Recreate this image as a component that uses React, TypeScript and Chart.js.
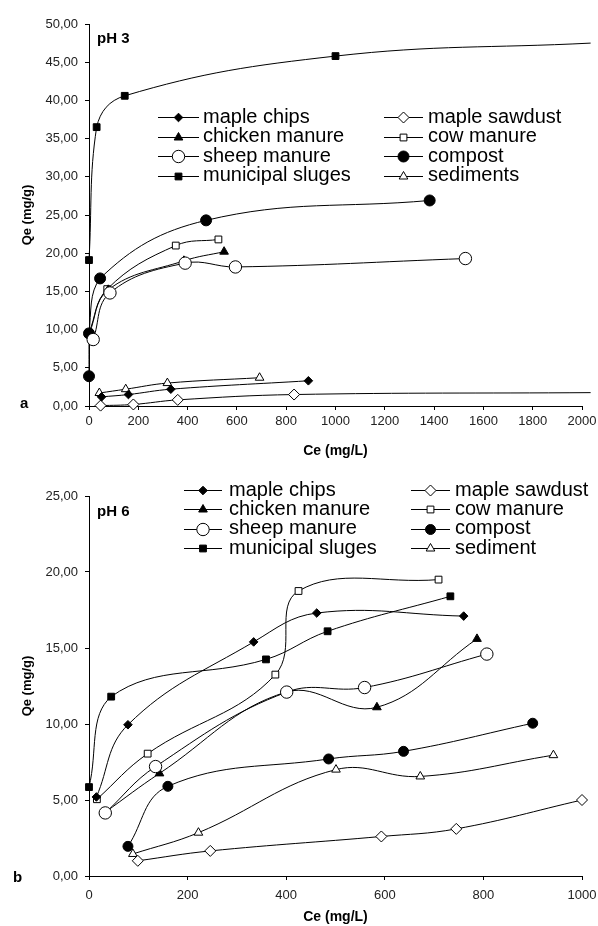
import React, { useEffect, useRef } from "react";
import { Chart, registerables } from "chart.js";

Chart.register(...registerables);

const FONT = '"Liberation Sans", Arial, sans-serif';

// ---- pH 3 : equilibrium concentration Ce (mg/L) and uptake Qe (mg/g) ----
const A_CHIPS_CE = [51, 160, 332, 890];
const A_CHIPS_QE = [1.2, 1.5, 2.2, 3.3];
const A_SAWDUST_CE = [47, 180, 360, 832, 2035];
const A_SAWDUST_QE = [0.05, 0.2, 0.8, 1.5, 1.75];
const A_CHICKEN_CE = [0, 78, 385, 548];
const A_CHICKEN_QE = [9.4, 15.2, 19.0, 20.2];
const A_COW_CE = [0, 74, 352, 525];
const A_COW_QE = [9.6, 15.3, 21.0, 21.8];
const A_SHEEP_CE = [17, 85, 390, 594, 1527];
const A_SHEEP_QE = [8.7, 14.8, 18.7, 18.2, 19.3];
const A_COMPOST_CE = [0, 0, 45, 475, 1382];
const A_COMPOST_QE = [3.9, 9.5, 16.7, 24.3, 26.9];
const A_MUNICIPAL_CE = [0, 31, 145, 1000, 2035];
const A_MUNICIPAL_QE = [19.1, 36.5, 40.6, 45.8, 47.5];
const A_SEDIMENTS_CE = [42, 149, 318, 692];
const A_SEDIMENTS_QE = [1.7, 2.2, 3.0, 3.7];

// ---- pH 6 ----
const B_CHIPS_CE = [15, 79, 334, 462, 760];
const B_CHIPS_QE = [5.2, 9.95, 15.4, 17.3, 17.1];
const B_SAWDUST_CE = [99, 246, 593, 745, 1000];
const B_SAWDUST_QE = [1.0, 1.65, 2.6, 3.1, 5.0];
const B_CHICKEN_CE = [33, 143, 400, 584, 787];
const B_CHICKEN_QE = [4.2, 6.75, 12.1, 11.1, 15.6];
const B_COW_CE = [16, 119, 378, 425, 709];
const B_COW_QE = [5.05, 8.05, 13.25, 18.75, 19.5];
const B_SHEEP_CE = [33, 135, 401, 559, 807];
const B_SHEEP_QE = [4.15, 7.2, 12.1, 12.4, 14.6];
const B_COMPOST_CE = [79, 160, 486, 638, 900];
const B_COMPOST_QE = [1.95, 5.9, 7.7, 8.2, 10.05];
const B_MUNICIPAL_CE = [0, 45, 359, 484, 733];
const B_MUNICIPAL_QE = [5.85, 11.8, 14.25, 16.1, 18.4];
const B_SEDIMENT_CE = [89, 222, 501, 672, 942];
const B_SEDIMENT_QE = [1.45, 2.85, 7.0, 6.55, 7.95];

// axis ranges
const A_X_MAX = 2000;
const A_Y_MAX = 50;
const B_X_MAX = 1000;
const B_Y_MAX = 25;

type Shape = "circle" | "rect" | "rectRot" | "triangle";
type Marker = { shape: Shape; r: number; filled: boolean; order: number };

const MARK = {
  chips: { shape: "rectRot", r: 4.3, filled: true, order: 0 } as Marker,
  sawdust: { shape: "rectRot", r: 5.5, filled: false, order: 0 } as Marker,
  chicken: { shape: "triangle", r: 5, filled: true, order: 0 } as Marker,
  cow: { shape: "rect", r: 4.8, filled: false, order: 0 } as Marker,
  sheep: { shape: "circle", r: 6.2, filled: false, order: -2 } as Marker,
  compost: { shape: "circle", r: 5.5, filled: true, order: -1 } as Marker,
  municipal: { shape: "rect", r: 4.8, filled: true, order: 0 } as Marker,
  sediments: { shape: "triangle", r: 5, filled: false, order: 0 } as Marker,
};

type Series = { label: string; ce: number[]; qe: number[]; marked: number; mark: Marker };

const SERIES_A: Series[] = [
  { label: "maple chips", ce: A_CHIPS_CE, qe: A_CHIPS_QE, marked: 4, mark: MARK.chips },
  { label: "maple sawdust", ce: A_SAWDUST_CE, qe: A_SAWDUST_QE, marked: 4, mark: MARK.sawdust },
  { label: "chicken manure", ce: A_CHICKEN_CE, qe: A_CHICKEN_QE, marked: 4, mark: MARK.chicken },
  { label: "cow manure", ce: A_COW_CE, qe: A_COW_QE, marked: 4, mark: MARK.cow },
  { label: "sheep manure", ce: A_SHEEP_CE, qe: A_SHEEP_QE, marked: 5, mark: MARK.sheep },
  { label: "compost", ce: A_COMPOST_CE, qe: A_COMPOST_QE, marked: 5, mark: MARK.compost },
  { label: "municipal sluges", ce: A_MUNICIPAL_CE, qe: A_MUNICIPAL_QE, marked: 4, mark: MARK.municipal },
  { label: "sediments", ce: A_SEDIMENTS_CE, qe: A_SEDIMENTS_QE, marked: 4, mark: MARK.sediments },
];

const SERIES_B: Series[] = [
  { label: "maple chips", ce: B_CHIPS_CE, qe: B_CHIPS_QE, marked: 5, mark: MARK.chips },
  { label: "maple sawdust", ce: B_SAWDUST_CE, qe: B_SAWDUST_QE, marked: 5, mark: MARK.sawdust },
  { label: "chicken manure", ce: B_CHICKEN_CE, qe: B_CHICKEN_QE, marked: 5, mark: MARK.chicken },
  { label: "cow manure", ce: B_COW_CE, qe: B_COW_QE, marked: 5, mark: MARK.cow },
  { label: "sheep manure", ce: B_SHEEP_CE, qe: B_SHEEP_QE, marked: 5, mark: MARK.sheep },
  { label: "compost", ce: B_COMPOST_CE, qe: B_COMPOST_QE, marked: 5, mark: { ...MARK.compost, r: 5 } },
  { label: "municipal sluges", ce: B_MUNICIPAL_CE, qe: B_MUNICIPAL_QE, marked: 5, mark: MARK.municipal },
  { label: "sediment", ce: B_SEDIMENT_CE, qe: B_SEDIMENT_QE, marked: 5, mark: MARK.sediments },
];

function drawMarker(ctx: CanvasRenderingContext2D, m: Marker, x: number, y: number) {
  const r = m.r;
  ctx.beginPath();
  if (m.shape === "circle") {
    ctx.arc(x, y, r, 0, Math.PI * 2);
  } else if (m.shape === "rect") {
    const s = Math.SQRT1_2 * r;
    ctx.rect(x - s, y - s, 2 * s, 2 * s);
  } else if (m.shape === "rectRot") {
    ctx.moveTo(x - r, y);
    ctx.lineTo(x, y - r);
    ctx.lineTo(x + r, y);
    ctx.lineTo(x, y + r);
    ctx.closePath();
  } else {
    let a = 0;
    ctx.moveTo(x + Math.sin(a) * r, y - Math.cos(a) * r);
    a += (2 * Math.PI) / 3;
    ctx.lineTo(x + Math.sin(a) * r, y - Math.cos(a) * r);
    a += (2 * Math.PI) / 3;
    ctx.lineTo(x + Math.sin(a) * r, y - Math.cos(a) * r);
    ctx.closePath();
  }
  ctx.fillStyle = m.filled ? "#000" : "#fff";
  ctx.fill();
  ctx.strokeStyle = "#000";
  ctx.lineWidth = 1;
  ctx.stroke();
}

type Panel = {
  series: Series[];
  height: number;
  xMax: number;
  yMax: number;
  padTop: number;
  xAxisHeight: number;
  xTickLineHeight: number;
  letter: string;
  letterX: number;
  letterY: number;
  ph: string;
  phY: number;
  lineX: [number, number][];
  textX: number[];
  rowY: number[];
};

const PANEL_A: Panel = {
  series: SERIES_A,
  height: 460,
  xMax: A_X_MAX,
  yMax: A_Y_MAX,
  padTop: 24,
  xAxisHeight: 54,
  xTickLineHeight: 1.6,
  letter: "a",
  letterX: 20,
  letterY: 408,
  ph: "pH 3",
  phY: 42.5,
  lineX: [
    [158, 199],
    [384, 423],
  ],
  textX: [203, 428],
  rowY: [117.3, 136.8, 156.3, 175.7],
};

const PANEL_B: Panel = {
  series: SERIES_B,
  height: 466,
  xMax: B_X_MAX,
  yMax: B_Y_MAX,
  padTop: 36,
  xAxisHeight: 50,
  xTickLineHeight: 2.2,
  letter: "b",
  letterX: 13,
  letterY: 421.5,
  ph: "pH 6",
  phY: 56,
  lineX: [
    [184, 222],
    [411, 450],
  ],
  textX: [229, 455],
  rowY: [30, 49.4, 68.8, 88.2],
};

function overlayPlugin(p: Panel) {
  return {
    id: "overlay",
    afterDraw(chart: Chart) {
      const ctx = chart.ctx;
      ctx.save();
      ctx.fillStyle = "#000";
      ctx.textBaseline = "alphabetic";
      ctx.textAlign = "left";
      ctx.font = `bold 15px ${FONT}`;
      ctx.fillText(p.letter, p.letterX, p.letterY);
      ctx.fillText(p.ph, 97, p.phY);

      p.series.forEach((s, i) => {
        const col = i % 2;
        const row = Math.floor(i / 2);
        const y = p.rowY[row];
        const [x0, x1] = p.lineX[col];
        ctx.strokeStyle = "#000";
        ctx.lineWidth = 1;
        ctx.beginPath();
        ctx.moveTo(x0, Math.round(y) + 0.5);
        ctx.lineTo(x1, Math.round(y) + 0.5);
        ctx.stroke();
        drawMarker(ctx, s.mark, (x0 + x1) / 2, Math.round(y) + 0.5);
        ctx.fillStyle = "#000";
        ctx.font = `20px ${FONT}`;
        ctx.fillText(s.label, p.textX[col], y + 5.5);
      });
      ctx.restore();
    },
  };
}

function IsothermPanel({ panel }: { panel: Panel }) {
  const ref = useRef<HTMLCanvasElement | null>(null);

  useEffect(() => {
    if (!ref.current) return;
    const datasets = panel.series.map((s) => ({
      label: s.label,
      data: s.ce.map((x, i) => ({ x, y: s.qe[i] })),
      borderColor: "#000",
      borderWidth: 1,
      tension: 0.4,
      fill: false,
      clip: false as const,
      order: s.mark.order,
      pointStyle: s.mark.shape,
      pointRadius: (c: any) => (c.dataIndex < s.marked ? s.mark.r : 0),
      pointHoverRadius: (c: any) => (c.dataIndex < s.marked ? s.mark.r : 0),
      pointBackgroundColor: s.mark.filled ? "#000" : "#fff",
      pointBorderColor: "#000",
      pointBorderWidth: 1,
    }));

    const chart = new Chart(ref.current, {
      type: "line",
      data: { datasets },
      plugins: [overlayPlugin(panel)],
      options: {
        animation: false,
        responsive: false,
        maintainAspectRatio: false,
        devicePixelRatio: 1,
        events: [],
        layout: { padding: { left: 20, right: 16, top: panel.padTop, bottom: 0 } },
        plugins: { legend: { display: false }, tooltip: { enabled: false } },
        scales: {
          x: {
            type: "linear",
            min: 0,
            max: panel.xMax,
            ticks: {
              stepSize: 200,
              autoSkip: false,
              maxRotation: 0,
              padding: 1,
              color: "#222",
              font: { family: FONT, size: 13, lineHeight: panel.xTickLineHeight },
              callback: (v: any) => String(v),
            },
            grid: { drawOnChartArea: false, drawTicks: true, tickLength: 4, color: "#000" },
            border: { display: true, color: "#000", width: 1 },
            title: {
              display: true,
              text: "Ce (mg/L)",
              color: "#000",
              padding: 0,
              font: { family: FONT, size: 14, weight: "bold" },
            },
            afterFit: (s: any) => {
              s.height = panel.xAxisHeight;
            },
          },
          y: {
            type: "linear",
            min: 0,
            max: panel.yMax,
            ticks: {
              stepSize: 5,
              padding: 7,
              color: "#222",
              font: { family: FONT, size: 13 },
              callback: (v: any) => Number(v).toFixed(2).replace(".", ","),
            },
            grid: { drawOnChartArea: false, drawTicks: true, tickLength: 4, color: "#000" },
            border: { display: true, color: "#000", width: 1 },
            title: {
              display: true,
              text: "Qe (mg/g)",
              color: "#000",
              padding: 0,
              font: { family: FONT, size: 13, weight: "bold" },
            },
            afterFit: (s: any) => {
              s.width = 69;
            },
          },
        },
      },
    } as any);

    return () => chart.destroy();
  }, [panel]);

  return (
    <canvas
      ref={ref}
      width={598}
      height={panel.height}
      style={{ display: "block", width: 598, height: panel.height }}
    />
  );
}

export default function App() {
  return (
    <div style={{ position: "absolute", left: 0, top: 0, width: 598, height: 926, background: "#fff" }}>
      <IsothermPanel panel={PANEL_A} />
      <IsothermPanel panel={PANEL_B} />
    </div>
  );
}
